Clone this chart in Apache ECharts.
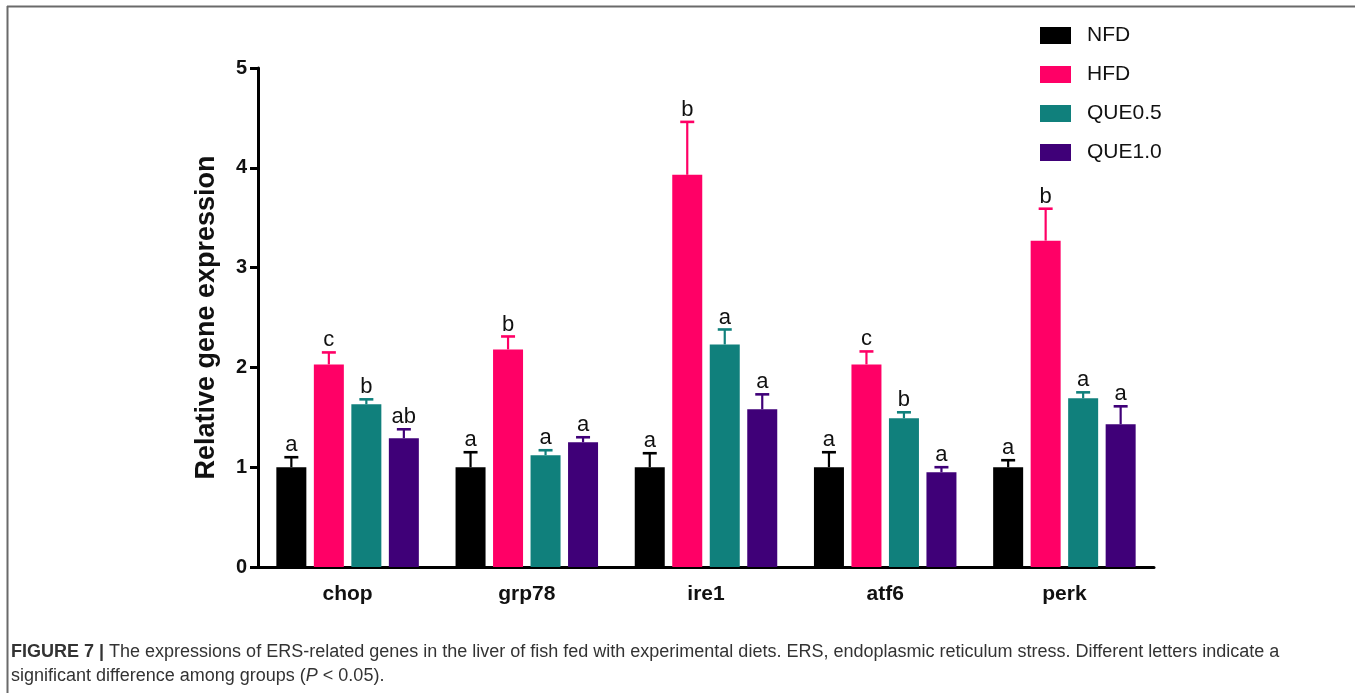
<!DOCTYPE html>
<html>
<head>
<meta charset="utf-8">
<script src="https://cdn.jsdelivr.net/npm/echarts@6/dist/echarts.min.js"></script>
<style>
  html, body { margin: 0; padding: 0; background: #fff; }
  #chart { width: 1355px; height: 693px; }
</style>
</head>
<body>
<div id="chart"></div>
<script>
// Genes on the x axis
const genes = ['chop', 'grp78', 'ire1', 'atf6', 'perk'];
// Diet groups
const groups = ['NFD', 'HFD', 'QUE0.5', 'QUE1.0'];
const groupColors = ['#000000', '#ff0066', '#10807c', '#3f0078'];

// Mean relative expression per group (order follows genes)
const nfdMean    = [1.00, 1.00, 1.00, 1.00, 1.00];
const hfdMean    = [2.03, 2.18, 3.93, 2.03, 3.27];
const que05Mean  = [1.63, 1.12, 2.23, 1.49, 1.69];
const que10Mean  = [1.29, 1.25, 1.58, 0.95, 1.43];

// Upper error (SEM) per group
const nfdErr   = [0.10, 0.15, 0.14, 0.15, 0.07];
const hfdErr   = [0.12, 0.13, 0.53, 0.13, 0.32];
const que05Err = [0.05, 0.05, 0.15, 0.06, 0.06];
const que10Err = [0.09, 0.05, 0.15, 0.05, 0.18];

// Significance letters
const nfdSig   = ['a', 'a', 'a', 'a', 'a'];
const hfdSig   = ['c', 'b', 'b', 'c', 'b'];
const que05Sig = ['b', 'a', 'a', 'b', 'a'];
const que10Sig = ['ab', 'a', 'a', 'a', 'a'];

// Y axis ticks
const yMin = 0, yMax = 5, yStep = 1;

const means = [nfdMean, hfdMean, que05Mean, que10Mean];
const errs = [nfdErr, hfdErr, que05Err, que10Err];
const sigs = [nfdSig, hfdSig, que05Sig, que10Sig];

const BAR_W = 30;
const BAR_GAP = 0.25;           // fraction of bar width
const STEP = BAR_W * (1 + BAR_GAP);
const FONT = '"Liberation Sans", Arial, Helvetica, sans-serif';

const barSeries = groups.map((g, i) => ({
  name: g,
  type: 'bar',
  data: means[i],
  barWidth: BAR_W,
  barGap: (BAR_GAP * 100) + '%',
  itemStyle: { color: groupColors[i] },
  z: 2
}));

// Error bars (upper whisker + cap) and letters above each bar
const errSeries = groups.map((g, i) => ({
  type: 'custom',
  name: g + '-err',
  data: genes.map((_, k) => [k, means[i][k], errs[i][k]]),
  encode: { x: 0, y: 1 },
  z: 3,
  silent: true,
  renderItem: function (params, api) {
    const k = api.value(0);
    const m = api.value(1);
    const e = api.value(2);
    const letter = sigs[i][k];
    const base = api.coord([k, m]);
    const top = api.coord([k, m + e]);
    const x = base[0] + (i - 1.5) * STEP;
    const cap = 7;
    const c = groupColors[i];
    return {
      type: 'group',
      children: [
        { type: 'line', shape: { x1: x, y1: base[1], x2: x, y2: top[1] },
          style: { stroke: c, lineWidth: 2.2 } },
        { type: 'line', shape: { x1: x - cap, y1: top[1], x2: x + cap, y2: top[1] },
          style: { stroke: c, lineWidth: 2.6 } },
        { type: 'text', x: x, y: top[1] - 1,
          style: { text: letter, fill: '#111', font: '22px ' + FONT,
                   align: 'center', verticalAlign: 'bottom' } }
      ]
    };
  }
}));

const chart = echarts.init(document.getElementById('chart'), null, { renderer: 'canvas' });
chart.setOption({
  animation: false,
  backgroundColor: '#ffffff',
  textStyle: { fontFamily: FONT },
  grid: { left: 258, right: 201, top: 68, bottom: 126, containLabel: false },
  legend: {
    data: groups,
    orient: 'vertical',
    left: 1035,
    top: 20,
    icon: 'rect',
    itemWidth: 31,
    itemHeight: 17,
    itemGap: 18,
    textStyle: { fontSize: 21, color: '#111', fontFamily: FONT, padding: [0, 0, 0, 11] },
    selectedMode: false
  },
  xAxis: {
    type: 'category',
    data: genes,
    boundaryGap: true,
    axisLine: { lineStyle: { color: '#000', width: 3 } },
    axisTick: { alignWithLabel: true, length: 8, lineStyle: { color: '#000', width: 3 } },
    axisLabel: { color: '#111', fontSize: 21, fontWeight: 'bold', margin: 17, fontFamily: FONT },
    splitLine: { show: false }
  },
  yAxis: {
    type: 'value',
    min: yMin,
    max: yMax,
    interval: yStep,
    name: 'Relative gene expression',
    nameLocation: 'middle',
    nameGap: 38,
    nameTextStyle: { fontSize: 27, fontWeight: 'bold', color: '#111', fontFamily: FONT },
    axisLine: { show: true, lineStyle: { color: '#000', width: 3 } },
    axisTick: { show: true, length: 8, lineStyle: { color: '#000', width: 3 } },
    axisLabel: { color: '#111', fontSize: 20, fontWeight: 'bold', margin: 11, fontFamily: FONT },
    splitLine: { show: false }
  },
  series: barSeries.concat(errSeries),
  graphic: [
    { type: 'line', shape: { x1: 7, y1: 6.5, x2: 1355, y2: 6.5 },
      style: { stroke: '#6a6a6a', lineWidth: 2 } },
    { type: 'line', shape: { x1: 7.5, y1: 6, x2: 7.5, y2: 693 },
      style: { stroke: '#6a6a6a', lineWidth: 2 } },
    {
      type: 'text', left: 11, top: 640,
      style: {
        text: '{b|FIGURE 7 |} The expressions of ERS-related genes in the liver of fish fed with experimental diets. ERS, endoplasmic reticulum stress. Different letters indicate a\nsignificant difference among groups ({i|P} < 0.05).',
        font: '18px ' + FONT,
        fill: '#333',
        lineHeight: 24,
        rich: {
          b: { fontWeight: 'bold', fontSize: 18, fill: '#333', fontFamily: FONT, lineHeight: 24 },
          i: { fontStyle: 'italic', fontSize: 18, fill: '#333', fontFamily: FONT, lineHeight: 24 }
        }
      }
    }
  ]
});
</script>
</body>
</html>
